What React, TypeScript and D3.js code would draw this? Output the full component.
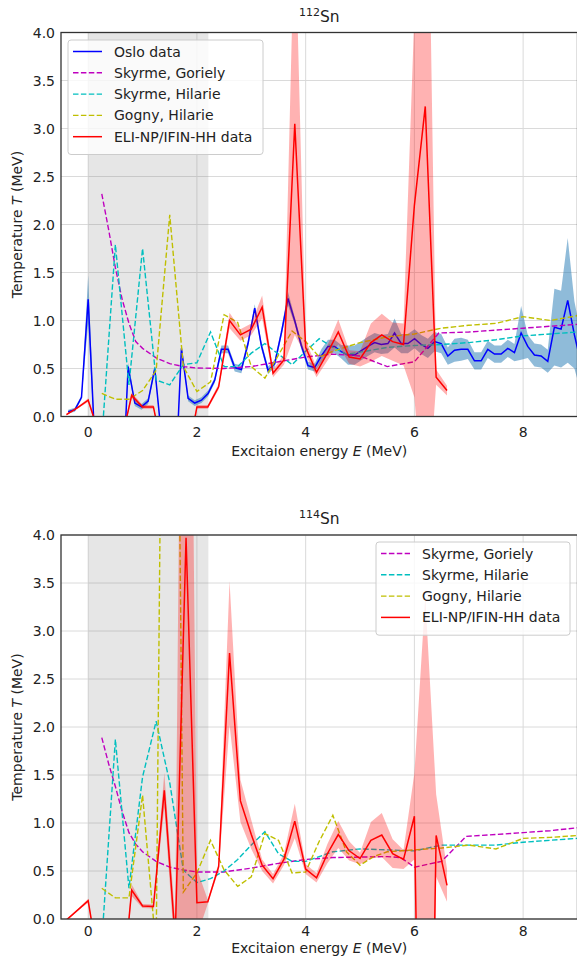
import React from "react";
import * as d3 from "d3";

const W = 577;
const H = 958;
const FONT = "DejaVu Sans, sans-serif";

// Energy axis (MeV)
const xDomain: [number, number] = [-0.5, 9];
const xTicks = [0, 2, 4, 6, 8];
const yTicks = [0, 0.5, 1, 1.5, 2, 2.5, 3, 3.5, 4];

// shaded low-energy region
const shadeFrom = 0;
const shadeTo = 2.21;

// ELI-NP/IFIN-HH energy grid
const eliEnergy = [
  -0.4, -0.2, 0.0, 0.2, 0.4, 0.6, 0.8, 1.0, 1.2, 1.4, 1.6, 1.8, 2.0, 2.2, 2.4, 2.6, 2.8, 3.0,
  3.2, 3.4, 3.6, 3.8, 4.0, 4.2, 4.4, 4.6, 4.8, 5.0, 5.2, 5.4, 5.6, 5.8, 6.0, 6.2, 6.4, 6.6,
];
const eliT112 = [
  0.02, 0.09, 0.17, -0.18, -0.5, -0.28, 0.22, 0.1, 0.1, -0.45, -0.6, -0.5, 0.1, 0.1, 0.31, 1.0,
  0.85, 0.91, 1.14, 0.45, 0.59, 3.05, 0.72, 0.46, 0.66, 0.88, 0.62, 0.6, 0.77, 0.85, 0.78, 0.75,
  2.2, 3.23, 0.41, 0.27,
];
const eliErr112 = [
  0.01, 0.01, 0.02, 0.02, 0.02, 0.02, 0.03, 0.02, 0.02, 0.02, 0.02, 0.02, 0.02, 0.02, 0.03, 0.08,
  0.06, 0.06, 0.12, 0.04, 0.05, 2.2, 0.08, 0.05, 0.08, 0.13, 0.07, 0.08, 0.2, 0.22, 0.2, 0.22,
  2.0, 4.5, 0.08, 0.05,
];
const eliT114 = [
  -0.01, 0.09, 0.19, -0.5, -1.0, -0.9, 0.3, 0.135, 0.13, 1.34, -0.2, 3.97, 0.17, 0.18, 0.545,
  2.77, 1.23, 0.88, 0.56, 0.42, 0.62, 1.02, 0.52, 0.43, 0.68, 0.88, 0.71, 0.63, 0.82, 0.875, 0.68,
  0.62, 1.07, -6.0, 0.87, 0.35,
];
const eliErr114 = [
  0.01, 0.01, 0.02, 0.02, 0.02, 0.02, 0.06, 0.02, 0.02, 0.18, 0.2, 8.0, 0.35, 0.02, 0.04, 0.75,
  0.22, 0.15, 0.06, 0.05, 0.06, 0.18, 0.05, 0.05, 0.1, 0.14, 0.1, 0.06, 0.19, 0.23, 0.15, 0.1,
  0.45, 9.36, 0.43, 0.17,
];

// Oslo method results for 112Sn
const osloEnergy = [
  -0.368, -0.245, -0.123, 0.0, 0.123, 0.245, 0.368, 0.49, 0.613, 0.735, 0.858, 0.98, 1.103,
  1.225, 1.348, 1.47, 1.593, 1.715, 1.838, 1.96, 2.083, 2.205, 2.328, 2.45, 2.573, 2.695, 2.818,
  2.94, 3.063, 3.185, 3.308, 3.43, 3.553, 3.675, 3.798, 3.92, 4.043, 4.165, 4.288, 4.41, 4.533,
  4.655, 4.778, 4.9, 5.023, 5.145, 5.268, 5.39, 5.513, 5.635, 5.758, 5.88, 6.003, 6.125, 6.248,
  6.37, 6.493, 6.615, 6.738, 6.86, 6.983, 7.105, 7.228, 7.35, 7.473, 7.595, 7.718, 7.84, 7.963,
  8.085, 8.208, 8.33, 8.453, 8.575, 8.698, 8.82, 8.943, 9.065,
];
const osloT112 = [
  0.05, 0.07, 0.2, 1.22, -0.3, -0.8, -0.9, -0.9, -1.0, 0.52, 0.14, 0.1, 0.16, 0.5, -0.21, -0.8,
  -0.83, 0.71, 0.19, 0.14, 0.17, 0.24, 0.38, 0.7, 0.7, 0.51, 0.49, 0.76, 1.13, 0.74, 0.48, 0.55,
  0.87, 1.23, 1.0, 0.74, 0.53, 0.51, 0.63, 0.73, 0.73, 0.675, 0.64, 0.64, 0.685, 0.73, 0.77, 0.75,
  0.76, 0.87, 0.76, 0.76, 0.81, 0.75, 0.71, 0.78, 0.76, 0.63, 0.69, 0.7, 0.7, 0.58, 0.58, 0.7,
  0.65, 0.65, 0.71, 0.665, 0.87, 0.73, 0.64, 0.63, 0.575, 0.93, 0.91, 1.21, 0.85, 0.55,
];
const osloErr112 = [
  0.02, 0.02, 0.02, 0.25, 0.03, 0.03, 0.03, 0.03, 0.03, 0.04, 0.03, 0.03, 0.03, 0.03, 0.03, 0.03,
  0.03, 0.03, 0.03, 0.03, 0.03, 0.03, 0.03, 0.04, 0.04, 0.04, 0.04, 0.04, 0.04, 0.04, 0.04, 0.04,
  0.04, 0.07, 0.04, 0.04, 0.04, 0.04, 0.07, 0.07, 0.07, 0.07, 0.1, 0.1, 0.1, 0.1, 0.1, 0.1, 0.1,
  0.15, 0.1, 0.1, 0.1, 0.1, 0.1, 0.1, 0.1, 0.09, 0.12, 0.12, 0.1, 0.09, 0.09, 0.09, 0.09, 0.09,
  0.09, 0.09, 0.28, 0.12, 0.12, 0.12, 0.12, 0.4, 0.4, 0.65, 0.35, 0.3,
];

// Skyrme, Goriely
const gorielyE112 = [
  0.25, 0.375, 0.5, 0.625, 0.75, 0.875, 1.0, 1.25, 1.5, 1.75, 2.0, 2.5, 3.0, 3.5, 4.0, 4.5, 5.0,
  5.5, 6.0, 6.45, 7.0, 7.5, 8.0, 8.5, 9.0,
];
const gorielyT112 = [
  2.32, 1.95, 1.55, 1.22, 0.97, 0.78, 0.71, 0.61, 0.55, 0.52, 0.505, 0.5, 0.52, 0.57, 0.62, 0.65,
  0.63, 0.52, 0.57, 0.87, 0.88, 0.9, 0.92, 0.94, 0.96,
];
const gorielyE114 = [
  0.25, 0.375, 0.5, 0.625, 0.75, 0.875, 1.0, 1.25, 1.5, 1.75, 2.0, 2.5, 3.0, 3.5, 4.0, 4.5, 5.0,
  5.5, 5.75, 6.0, 6.5, 6.95, 7.5, 8.0, 8.5, 9.0,
];
const gorielyT114 = [
  1.89, 1.62, 1.38, 1.12, 0.9, 0.78, 0.7, 0.6, 0.54, 0.51, 0.49, 0.49, 0.53, 0.58, 0.62, 0.64,
  0.645, 0.65, 0.64, 0.54, 0.6, 0.86, 0.88, 0.9, 0.92, 0.95,
];

// Skyrme, Hilarie
const skyrmeHE112 = [
  0.25, 0.5, 0.75, 1.0, 1.25, 1.5, 1.75, 2.0, 2.25, 2.5, 2.75, 3.0, 3.25, 3.5, 3.75, 4.0, 4.25,
  4.5, 4.75, 5.0, 5.5, 6.0, 6.5, 7.0, 7.5, 8.0, 8.5, 9.0,
];
const skyrmeHT112 = [
  -0.24, 1.79, 0.33, 1.75, 0.38, 0.33, 0.54, 0.56, 0.88, 0.52, 0.52, 0.66, 0.76, 0.65, 0.54, 0.68,
  0.81, 0.72, 0.65, 0.67, 0.72, 0.74, 0.75, 0.77, 0.8, 0.84, 0.86, 0.88,
];
const skyrmeHE114 = [
  0.25, 0.5, 0.75, 1.0, 1.25, 1.5, 1.75, 2.0, 2.25, 2.5, 2.75, 3.0, 3.25, 3.5, 3.75, 4.0, 4.5,
  5.0, 5.5, 6.0, 6.5, 7.0, 7.5, 8.0, 8.5, 9.0,
];
const skyrmeHT114 = [
  -0.24, 1.87, 0.32, 1.48, 2.06, 1.42, 0.51, 0.38, 0.42, 0.5, 0.62, 0.77, 0.91, 0.68, 0.6, 0.6,
  0.7, 0.73, 0.72, 0.71, 0.77, 0.77, 0.77, 0.8, 0.82, 0.84,
];

// Gogny, Hilarie
const gognyE112 = [
  0.25, 0.5, 0.75, 1.0, 1.25, 1.5, 1.75, 2.0, 2.25, 2.5, 2.75, 3.0, 3.25, 3.5, 3.75, 4.0, 4.25,
  4.5, 5.0, 5.5, 6.0, 6.5, 7.0, 7.5, 8.0, 8.5, 9.0,
];
const gognyT112 = [
  0.24, 0.18, 0.18, 0.27, 0.48, 2.1, 0.52, 0.26, 0.36, 1.06, 0.98, 0.52, 0.4, 0.64, 0.89, 0.78,
  0.62, 0.68, 0.77, 0.83, 0.86, 0.92, 0.95, 0.97, 1.04, 1.0, 1.05,
];
const gognyE114 = [
  0.25, 0.5, 0.75, 1.0, 1.25, 1.5, 1.75, 2.0, 2.25, 2.5, 2.75, 3.0, 3.25, 3.5, 3.75, 4.0, 4.25,
  4.5, 4.75, 5.0, 5.25, 5.5, 6.0, 6.5, 7.0, 7.5, 8.0, 8.5, 9.0,
];
const gognyT114 = [
  0.32, 0.22, 0.22, 1.29, -0.32, 15.1, 0.28, 0.48, 0.82, 0.51, 0.34, 0.44, 0.89, 0.82, 0.48, 0.49,
  0.81, 1.08, 0.7, 0.56, 0.65, 0.7, 0.72, 0.74, 0.77, 0.73, 0.84, 0.85, 0.87,
];

const COLORS = {
  oslo: "#0000ff",
  osloBand: "#1f77b4",
  goriely: "#bf00bf",
  skyrmeH: "#00bfbf",
  gogny: "#bfbf00",
  eli: "#ff0000",
};

type Pt = { e: number; t: number; err?: number };
const zip = (es: number[], ts: number[], errs?: number[]): Pt[] =>
  es.map((e, i) => ({ e, t: ts[i], err: errs ? errs[i] : 0 }));

type LegendItem = { label: string; color: string; dashed: boolean };

interface PanelProps {
  id: string;
  top: number;
  bottom: number;
  mass: string;
  titleY: number;
  tickY: number;
  labelY: number;
  oslo?: Pt[];
  goriely: Pt[];
  skyrmeH: Pt[];
  gogny: Pt[];
  eli: Pt[];
  legend: { x: number; y: number; w: number; items: LegendItem[] };
}

const LEFT = 61;
const RIGHT = 577.5;
const DASH = "5.5,2.4";

function Panel(p: PanelProps) {
  const x = d3.scaleLinear().domain(xDomain).range([LEFT, RIGHT]);
  const y = d3.scaleLinear().domain([0, 4]).range([p.bottom, p.top]);
  const line = d3
    .line<Pt>()
    .x((d) => x(d.e))
    .y((d) => y(d.t));
  const band = d3
    .area<Pt>()
    .x((d) => x(d.e))
    .y0((d) => y(d.t - (d.err || 0)))
    .y1((d) => y(d.t + (d.err || 0)));
  const clip = `clip-${p.id}`;
  const midY = (p.top + p.bottom) / 2;
  const rowH = 21.3;
  const lg = p.legend;

  return (
    <g>
      <defs>
        <clipPath id={clip}>
          <rect x={LEFT} y={p.top} width={RIGHT - LEFT} height={p.bottom - p.top} />
        </clipPath>
      </defs>
      {/* grid */}
      {yTicks.map((v) => (
        <line key={"gy" + v} x1={LEFT} x2={RIGHT} y1={y(v)} y2={y(v)} stroke="#dadada" strokeWidth={1} />
      ))}
      {xTicks.map((v) => (
        <line key={"gx" + v} x1={x(v)} x2={x(v)} y1={p.top} y2={p.bottom} stroke="#dadada" strokeWidth={1} />
      ))}
      {/* shaded region */}
      <rect
        x={x(shadeFrom)}
        y={p.top}
        width={x(shadeTo) - x(shadeFrom)}
        height={p.bottom - p.top}
        fill="#808080"
        fillOpacity={0.2}
      />
      <g clipPath={`url(#${clip})`}>
        {p.oslo && (
          <>
            <path d={band(p.oslo) || ""} fill={COLORS.osloBand} fillOpacity={0.5} stroke="none" />
            <path d={line(p.oslo) || ""} fill="none" stroke={COLORS.oslo} strokeWidth={1.5} />
          </>
        )}
        <path d={line(p.goriely) || ""} fill="none" stroke={COLORS.goriely} strokeWidth={1.4} strokeDasharray={DASH} />
        <path d={line(p.skyrmeH) || ""} fill="none" stroke={COLORS.skyrmeH} strokeWidth={1.4} strokeDasharray={DASH} />
        <path d={line(p.gogny) || ""} fill="none" stroke={COLORS.gogny} strokeWidth={1.4} strokeDasharray={DASH} />
        <path d={band(p.eli) || ""} fill={COLORS.eli} fillOpacity={0.3} stroke="none" />
        <path d={line(p.eli) || ""} fill="none" stroke={COLORS.eli} strokeWidth={1.5} />
      </g>
      {/* frame */}
      <rect x={LEFT} y={p.top} width={RIGHT - LEFT} height={p.bottom - p.top} fill="none" stroke="#333" strokeWidth={1.3} />
      {/* tick labels */}
      {yTicks.map((v) => (
        <text key={"ty" + v} x={55} y={y(v) + 5} textAnchor="end" fontSize={14} fontFamily={FONT} fill="#222">
          {v.toFixed(1)}
        </text>
      ))}
      {xTicks.map((v) => (
        <text key={"tx" + v} x={x(v)} y={p.tickY} textAnchor="middle" fontSize={14} fontFamily={FONT} fill="#222">
          {v}
        </text>
      ))}
      {/* axis titles */}
      <text x={(LEFT + RIGHT) / 2} y={p.labelY} textAnchor="middle" fontSize={14} fontFamily={FONT} fill="#222">
        Excitaion energy <tspan fontStyle="italic">E</tspan> (MeV)
      </text>
      <text
        transform={`translate(22,${midY}) rotate(-90)`}
        textAnchor="middle"
        fontSize={14}
        fontFamily={FONT}
        fill="#222"
      >
        Temperature <tspan fontStyle="italic">T</tspan> (MeV)
      </text>
      <text x={(LEFT + RIGHT) / 2} y={p.titleY} textAnchor="middle" fontSize={15.5} fontFamily={FONT} fill="#222">
        <tspan fontSize={11} dy={-6}>
          {p.mass}
        </tspan>
        <tspan dy={6}>Sn</tspan>
      </text>
      {/* legend */}
      <rect
        x={lg.x}
        y={lg.y}
        width={lg.w}
        height={lg.items.length * rowH + 8}
        rx={3}
        fill="#fff"
        fillOpacity={0.8}
        stroke="#cccccc"
        strokeWidth={1}
      />
      {lg.items.map((it, i) => {
        const cy = lg.y + 11.5 + i * rowH;
        return (
          <g key={it.label}>
            <line
              x1={lg.x + 5}
              x2={lg.x + 34}
              y1={cy}
              y2={cy}
              stroke={it.color}
              strokeWidth={it.dashed ? 1.4 : 1.5}
              strokeDasharray={it.dashed ? DASH : undefined}
            />
            <text x={lg.x + 46} y={cy + 5} fontSize={14} fontFamily={FONT} fill="#222">
              {it.label}
            </text>
          </g>
        );
      })}
    </g>
  );
}

const modelItems: LegendItem[] = [
  { label: "Skyrme, Goriely", color: COLORS.goriely, dashed: true },
  { label: "Skyrme, Hilarie", color: COLORS.skyrmeH, dashed: true },
  { label: "Gogny, Hilarie", color: COLORS.gogny, dashed: true },
  { label: "ELI-NP/IFIN-HH data", color: COLORS.eli, dashed: false },
];

export default function App() {
  return (
    <svg
      width={W}
      height={H}
      viewBox={`0 0 ${W} ${H}`}
      style={{ position: "absolute", left: 0, top: 0, background: "#fff" }}
    >
      <rect width={W} height={H} fill="#fff" />
      <Panel
        id="sn112"
        top={32.5}
        bottom={416.5}
        mass="112"
        titleY={22}
        tickY={437}
        labelY={456}
        oslo={zip(osloEnergy, osloT112, osloErr112)}
        goriely={zip(gorielyE112, gorielyT112)}
        skyrmeH={zip(skyrmeHE112, skyrmeHT112)}
        gogny={zip(gognyE112, gognyT112)}
        eli={zip(eliEnergy, eliT112, eliErr112)}
        legend={{
          x: 68,
          y: 40,
          w: 195,
          items: [{ label: "Oslo data", color: COLORS.oslo, dashed: false }, ...modelItems],
        }}
      />
      <Panel
        id="sn114"
        top={535}
        bottom={919}
        mass="114"
        titleY={524}
        tickY={936}
        labelY={953}
        goriely={zip(gorielyE114, gorielyT114)}
        skyrmeH={zip(skyrmeHE114, skyrmeHT114)}
        gogny={zip(gognyE114, gognyT114)}
        eli={zip(eliEnergy, eliT114, eliErr114)}
        legend={{ x: 376, y: 542, w: 194, items: modelItems }}
      />
    </svg>
  );
}
